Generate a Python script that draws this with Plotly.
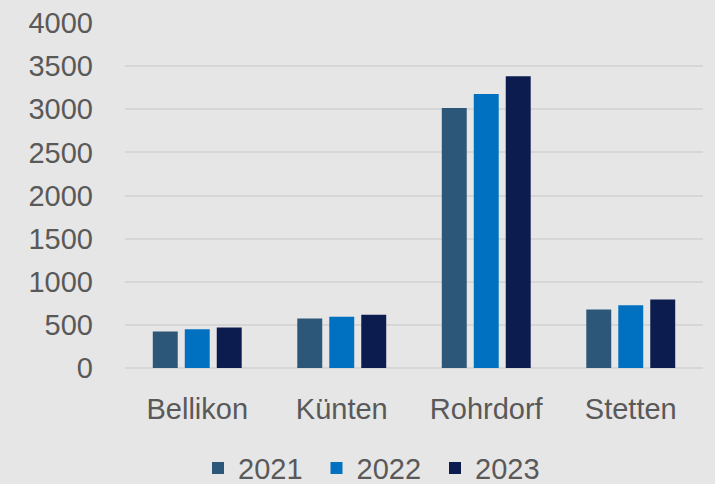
import plotly.graph_objects as go

categories = ["Bellikon", "Künten", "Rohrdorf", "Stetten"]
years = ["2021", "2022", "2023"]
values_2021 = [422, 575, 3015, 678]
values_2022 = [449, 595, 3178, 728]
values_2023 = [469, 616, 3382, 794]
colors = ["#2D5778", "#0070C0", "#0C1C4F"]

fig = go.Figure()
for name, vals, col in zip(years, [values_2021, values_2022, values_2023], colors):
    fig.add_trace(go.Bar(name=name, x=categories, y=vals, marker=dict(color=col, line=dict(width=0))))

fig.update_layout(
    width=715, height=484,
    paper_bgcolor="#E6E6E6", plot_bgcolor="#E6E6E6",
    margin=dict(l=125, r=12, t=23, b=116, autoexpand=False),
    barmode="group", bargap=0.336, bargroupgap=0.22,
    font=dict(family="Liberation Sans, Arial, sans-serif", size=29, color="#595959"),
    xaxis=dict(showgrid=False, showline=False, ticks="", ticklabelstandoff=21),
    yaxis=dict(range=[0, 4000], dtick=500, gridcolor="#D6D6D6", gridwidth=2,
               zeroline=True, zerolinecolor="#D6D6D6", zerolinewidth=2,
               showline=False, ticks="", ticklabelstandoff=31),
    legend=dict(orientation="h", x=(376 - 125) / 578, xanchor="center", y=-0.29, yanchor="middle",
                font=dict(size=29, color="#595959"), itemwidth=30,
                entrywidth=73.5, entrywidthmode="pixels"),
    showlegend=True,
)
fig.write_html("out.html", config={"displayModeBar": False},
               post_script="document.body.style.margin='0';")
